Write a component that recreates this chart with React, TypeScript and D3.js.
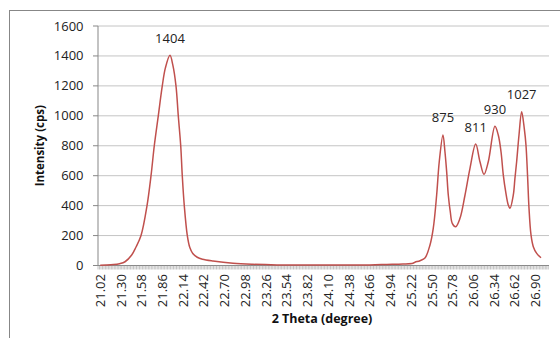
import React from 'react';
import * as d3 from 'd3';

// 2 theta (degree) and intensity (cps)
const theta = [
  21.02, 21.10, 21.20, 21.28, 21.355, 21.445, 21.50, 21.571, 21.652, 21.706, 21.75, 21.804, 21.858, 21.90, 21.962,
  22.0, 22.043, 22.074, 22.107, 22.128, 22.155, 22.196, 22.23, 22.27, 22.33, 22.40, 22.543, 22.813, 23.083, 23.407,
  24.0, 24.66, 24.89, 25.108, 25.243, 25.27, 25.338, 25.405, 25.473, 25.517, 25.563, 25.598, 25.648,
  25.675, 25.698, 25.72, 25.747, 25.774, 25.82, 25.878, 25.946, 26.013, 26.09, 26.148, 26.202, 26.26, 26.35,
  26.395, 26.432, 26.463, 26.495, 26.53, 26.553, 26.598, 26.62, 26.643, 26.675, 26.711,
  26.746, 26.769, 26.792, 26.81, 26.837, 26.868, 26.914, 26.972,
];
const intensity = [
  2, 3, 6, 12, 25, 70, 120, 200, 400, 600, 800, 1000, 1200, 1320, 1404,
  1340, 1200, 1000, 800, 600, 400, 200, 120, 80, 55, 42, 30, 15, 8, 4,
  4, 4, 7, 10, 15, 22, 32, 50, 137, 248, 471, 693, 872,
  760, 627, 471, 359, 282, 259, 315, 471, 649, 811, 693, 609, 693, 930,
  872, 760, 604, 493, 404, 382, 471, 582, 693, 872, 1027,
  916, 805, 582, 382, 204, 126, 81, 52,
];

const peakTheta = [21.962, 25.648, 26.09, 26.35, 26.711];
const peakLabels = [1404, 875, 811, 930, 1027];

const xLabels = [
  '21.02', '21.30', '21.58', '21.86', '22.14', '22.42', '22.70', '22.98', '23.26', '23.54', '23.82',
  '24.10', '24.38', '24.66', '24.94', '25.22', '25.50', '25.78', '26.06', '26.34', '26.62', '26.90',
];
const yTicks = [0, 200, 400, 600, 800, 1000, 1200, 1400, 1600];

const W = 560;
const H = 338;
const left = 98;
const right = 549;
const top = 26;
const bottom = 265.5;
const font = '"Open Sans", sans-serif';

export default function App() {
  const x = d3.scaleLinear().domain([20.99, 27.08]).range([left, right]);
  const y = d3.scaleLinear().domain([0, 1600]).range([bottom, top]);

  const pts = theta.map((t, i) => [t, intensity[i]] as [number, number]);
  const line = d3
    .line<[number, number]>()
    .x(d => x(d[0]))
    .y(d => y(d[1]))
    .curve(d3.curveCatmullRom.alpha(0.5));

  // one minor tick per 0.02 category
  const minor = d3.range(0, 305).map(i => 20.99 + i * 0.02);

  return (
    <svg width={W} height={H} style={{ position: 'absolute', left: 0, top: 0 }}>
      <rect x={0} y={0} width={W} height={H} fill="#fff" />
      <rect x={9.5} y={10.5} width={W} height={H} fill="none" stroke="#878787" strokeWidth={1} />

      {yTicks.map(t => (
        <g key={t}>
          {t > 0 && <line x1={left} x2={right} y1={y(t)} y2={y(t)} stroke="#c4c4c4" strokeWidth={1} />}
          <line x1={left - 5} x2={left} y1={y(t)} y2={y(t)} stroke="#878787" />
          <text x={83.5} y={y(t)} dy="0.35em" textAnchor="end" fontFamily={font} fontSize={13} fill="#222">
            {t}
          </text>
        </g>
      ))}

      <line x1={left} x2={left} y1={top} y2={bottom} stroke="#878787" />
      <line x1={left} x2={right} y1={bottom} y2={bottom} stroke="#878787" />
      {minor.map((t, i) => (
        <line key={i} x1={x(t)} x2={x(t)} y1={bottom} y2={bottom + 4} stroke="#9a9a9a" strokeWidth={0.6} />
      ))}

      {xLabels.map(l => (
        <text
          key={l}
          transform={`translate(${x(+l)},274) rotate(-90)`}
          dy="0.35em"
          textAnchor="end"
          fontFamily={font}
          fontSize={13}
          fill="#222"
        >
          {l}
        </text>
      ))}

      <path d={line(pts) || ''} fill="none" stroke="#c0504d" strokeWidth={1.5} />

      {peakTheta.map((t, i) => (
        <text
          key={i}
          x={x(t)}
          y={y(peakLabels[i]) - 12.5}
          textAnchor="middle"
          fontFamily={font}
          fontSize={13}
          fill="#222"
        >
          {peakLabels[i]}
        </text>
      ))}

      <text
        transform={`translate(40,${(top + bottom) / 2}) rotate(-90)`}
        dy="0.35em"
        textAnchor="middle"
        fontFamily={font}
        fontSize={11.5}
        fontWeight="bold"
        fill="#111"
      >
        Intensity (cps)
      </text>
      <text x={322} y={323} textAnchor="middle" fontFamily={font} fontSize={12.5} fontWeight="bold" fill="#111">
        2 Theta (degree)
      </text>
    </svg>
  );
}
